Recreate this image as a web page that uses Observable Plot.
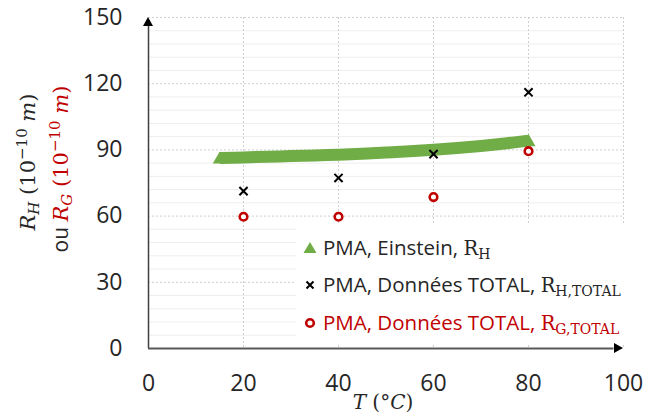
<!DOCTYPE html>
<html>
<head>
<meta charset="utf-8">
<script src="https://cdn.jsdelivr.net/npm/d3@7"></script>
<script src="https://cdn.jsdelivr.net/npm/@observablehq/plot@0.6"></script>
<style>
  html, body { margin: 0; padding: 0; background: #fff; }
  #chart { width: 645px; height: 416px; }
</style>
</head>
<body>
<div id="chart"></div>
<script>
// ---- Data ----
const tempTotal = [20, 40, 60, 80];
const rhTotal = [71.3, 77.3, 88.1, 116.1];   // PMA, Données TOTAL, R_H,TOTAL
const rgTotal = [59.7, 59.7, 68.6, 89.4];    // PMA, Données TOTAL, R_G,TOTAL
const tempEinstein = [15, 20, 25, 30, 35, 40, 45, 50, 55, 60, 65, 70, 75, 80];
const rhEinstein = [86.3, 86.6, 86.9, 87.2, 87.5, 87.8, 88.3, 88.8, 89.4, 90.1, 90.9, 91.8, 92.9, 94.2];

const xTicks = [0, 20, 40, 60, 80, 100];
const yTicks = [0, 30, 60, 90, 120, 150];
const yMinor = [6, 12, 18, 24, 36, 42, 48, 54, 66, 72, 78, 84, 96, 102, 108, 114, 126, 132, 138, 144];

const legendLabels = ["PMA, Einstein, ", "PMA, Données TOTAL, ", "PMA, Données TOTAL, "];
const legendSubs = ["H", "H,TOTAL", "G,TOTAL"];

const GREEN = "#70ad47", RED = "#c00000", INK = "#262626";

const total = tempTotal.map((t, i) => ({t, rh: rhTotal[i], rg: rgTotal[i]}));
const einstein = tempEinstein.map((t, i) => ({t, rh: rhEinstein[i]}));
const ends = [einstein[0], einstein[einstein.length - 1]];

const plot = Plot.plot({
  width: 645,
  height: 416,
  marginLeft: 148,
  marginRight: 22,
  marginTop: 17,
  marginBottom: 68,
  x: {domain: [0, 100]},
  y: {domain: [0, 150]},
  style: {fontFamily: "'Open Sans', sans-serif", fontSize: "23px", color: INK, background: "white", overflow: "visible"},
  marks: [
    Plot.ruleY(yMinor, {stroke: "#eeeeee", strokeWidth: 1}),
    Plot.ruleY(yTicks.filter(v => v > 0), {stroke: "#cfcfcf", strokeWidth: 1, strokeDasharray: "2,2"}),
    Plot.ruleX(xTicks.filter(v => v > 0), {stroke: "#cfcfcf", strokeWidth: 1, strokeDasharray: "2,2"}),
    Plot.axisX({ticks: xTicks, tickSize: 0, tickPadding: 26, label: null, fontSize: 23}),
    Plot.axisY({ticks: yTicks, tickSize: 0, tickPadding: 26, label: null, fontSize: 23}),
    Plot.ruleX([0], {y1: 0, y2: 147, stroke: "#404040", strokeWidth: 1.5}),
    Plot.ruleY([0], {x1: 0, x2: 98, stroke: "#595959", strokeWidth: 1.8}),
    Plot.line(einstein, {x: "t", y: "rh", stroke: GREEN, strokeWidth: 12, strokeLinecap: "butt", curve: "catmull-rom"}),
    Plot.dot(ends, {x: "t", y: "rh", symbol: "triangle", r: 5.2, dy: 1.5, fill: GREEN, stroke: "none"}),
    Plot.dot(total, {x: "t", y: "rh", symbol: "times", r: 3.8, stroke: "black", strokeWidth: 2}),
    Plot.dot(total, {x: "t", y: "rg", symbol: "circle", r: 3.8, stroke: RED, strokeWidth: 2.6, fill: "white"})
  ]
});

document.getElementById("chart").appendChild(plot);

const svg = d3.select(plot);
const sx = plot.scale("x"), sy = plot.scale("y");
const x0 = sx.apply(0), y0 = sy.apply(0), xMax = sx.apply(100), yMax = sy.apply(150);

// Axis arrowheads
svg.append("path")
  .attr("d", `M${x0},${yMax} L${x0 - 5},${yMax + 9} L${x0 + 5},${yMax + 9} Z`)
  .attr("fill", "black");
svg.append("path")
  .attr("d", `M${xMax},${y0} L${xMax - 9},${y0 - 5} L${xMax - 9},${y0 + 5} Z`)
  .attr("fill", "black");

const SERIF = "'DejaVu Serif', serif";
const SANS = "'Open Sans', sans-serif";

// X axis title: T (°C)
const xt = svg.append("text")
  .attr("x", 383).attr("y", 409)
  .attr("text-anchor", "middle")
  .attr("font-family", SERIF).attr("font-size", 20).attr("fill", INK);
xt.append("tspan").attr("font-style", "italic").text("T");
xt.append("tspan").text(" (°");
xt.append("tspan").attr("font-style", "italic").text("C");
xt.append("tspan").text(")");

// Y axis title (two rotated lines)
const yt1 = svg.append("text")
  .attr("transform", "translate(35,162) rotate(-90)")
  .attr("text-anchor", "middle")
  .attr("font-family", SERIF).attr("font-size", 21).attr("fill", INK);
yt1.append("tspan").attr("font-style", "italic").text("R");
yt1.append("tspan").attr("font-style", "italic").attr("font-size", 15).attr("dy", 4).text("H");
yt1.append("tspan").attr("dy", -4).text(" (10");
yt1.append("tspan").attr("font-size", 15).attr("dy", -8).text("−10");
yt1.append("tspan").attr("dy", 8).text(" ");
yt1.append("tspan").attr("font-style", "italic").text("m");
yt1.append("tspan").text(")");

const yt2 = svg.append("text")
  .attr("transform", "translate(68,169) rotate(-90)")
  .attr("text-anchor", "middle")
  .attr("font-family", SERIF).attr("font-size", 21).attr("fill", RED);
yt2.append("tspan").attr("font-family", SANS).attr("fill", INK).text("ou ");
yt2.append("tspan").attr("font-style", "italic").text("R");
yt2.append("tspan").attr("font-style", "italic").attr("font-size", 15).attr("dy", 4).text("G");
yt2.append("tspan").attr("dy", -4).text(" (10");
yt2.append("tspan").attr("font-size", 15).attr("dy", -8).text("−10");
yt2.append("tspan").attr("dy", 8).text(" ");
yt2.append("tspan").attr("font-style", "italic").text("m");
yt2.append("tspan").text(")");

// Legend
const lg = svg.append("g");
lg.append("rect").attr("x", 296).attr("y", 225).attr("width", 332).attr("height", 118).attr("fill", "white").attr("stroke", "none");
const rowsY = [248, 285, 323];
const colors = [INK, INK, RED];
lg.append("path").attr("d", `M310,${rowsY[0] - 6} L316.5,${rowsY[0] + 5} L303.5,${rowsY[0] + 5} Z`).attr("fill", GREEN);
lg.append("path").attr("d", `M306.5,${rowsY[1] - 3.5} L313.5,${rowsY[1] + 3.5} M313.5,${rowsY[1] - 3.5} L306.5,${rowsY[1] + 3.5}`)
  .attr("stroke", "black").attr("stroke-width", 2);
lg.append("circle").attr("cx", 310).attr("cy", rowsY[2]).attr("r", 3.8).attr("fill", "white").attr("stroke", RED).attr("stroke-width", 2.6);
legendLabels.forEach((lab, i) => {
  const t = lg.append("text").attr("x", 323).attr("y", rowsY[i] + 7)
    .attr("text-anchor", "start")
    .attr("font-family", SANS).attr("font-size", 20.5).attr("fill", colors[i]);
  t.append("tspan").text(lab);
  t.append("tspan").attr("font-family", SERIF).attr("font-size", 19.5).text("R");
  t.append("tspan").attr("font-family", SERIF).attr("font-size", 14).attr("dy", 4).text(legendSubs[i]);
});
</script>
</body>
</html>
